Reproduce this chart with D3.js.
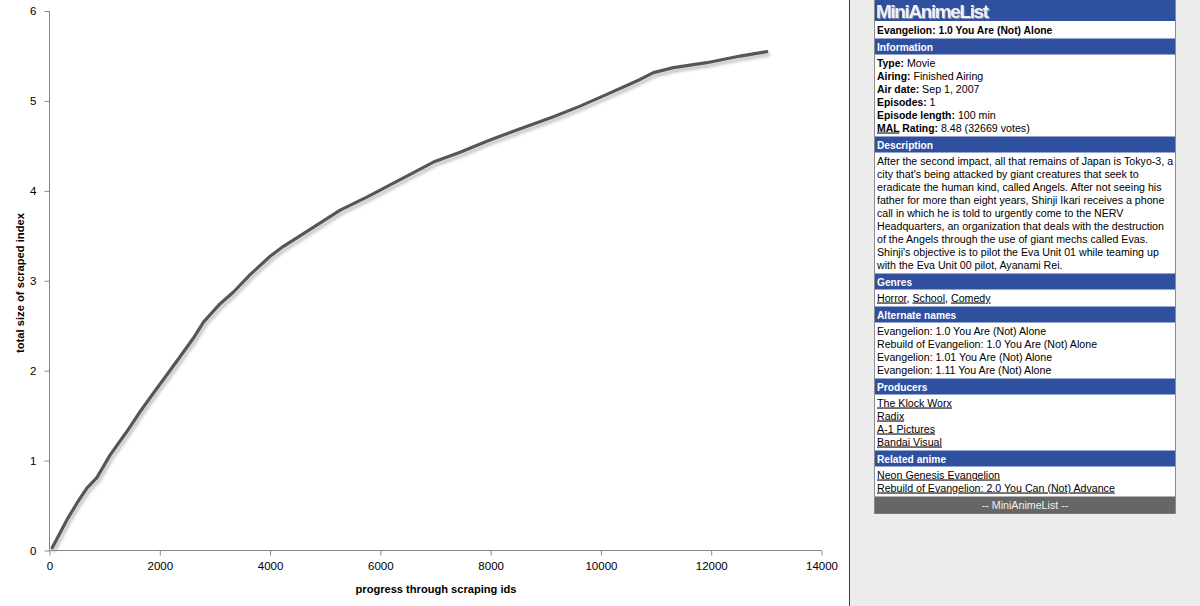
<!DOCTYPE html>
<html><head><meta charset="utf-8">
<script src="https://cdn.jsdelivr.net/npm/d3@7"></script>
<style>
html,body{margin:0;padding:0;background:#fff;}
svg{display:block;}
</style></head>
<body>
<svg id="c" width="1200" height="606"></svg>
<script>
// ---- chart data ----
const progressIds = [49,315,497,678,859,1101,1403,1645,1886,2129,2370,2611,2792,3095,3336,3639,4002,4243,4606,5271,5755,6359,6963,7447,7931,8413,9139,9623,10107,10711,10952,11315,11920,12524,13008];
const indexSize   = [0.031,0.34,0.526,0.693,0.810,1.063,1.323,1.546,1.751,1.954,2.158,2.363,2.540,2.745,2.875,3.068,3.272,3.383,3.525,3.785,3.930,4.125,4.320,4.430,4.552,4.664,4.824,4.942,5.073,5.239,5.315,5.370,5.425,5.499,5.548];
const xTicks = [0,2000,4000,6000,8000,10000,12000,14000];
const yTicks = [0,1,2,3,4,5,6];
const xTitle = "progress through scraping ids";
const yTitle = "total size of scraped index";

// ---- side panel data ----
const panelTitle = "MiniAnimeList";
const animeName = "Evangelion: 1.0 You Are (Not) Alone";
const infoRows = [["Type","Movie"],["Airing","Finished Airing"],["Air date","Sep 1, 2007"],["Episodes","1"],["Episode length","100 min"],["MAL","Rating","8.48 (32669 votes)"]];
const descriptionLines = [
 "After the second impact, all that remains of Japan is Tokyo-3, a",
 "city that's being attacked by giant creatures that seek to",
 "eradicate the human kind, called Angels. After not seeing his",
 "father for more than eight years, Shinji Ikari receives a phone",
 "call in which he is told to urgently come to the NERV",
 "Headquarters, an organization that deals with the destruction",
 "of the Angels through the use of giant mechs called Evas.",
 "Shinji's objective is to pilot the Eva Unit 01 while teaming up",
 "with the Eva Unit 00 pilot, Ayanami Rei."];
const genres = ["Horror","School","Comedy"];
const alternateNames = ["Evangelion: 1.0 You Are (Not) Alone","Rebuild of Evangelion: 1.0 You Are (Not) Alone","Evangelion: 1.01 You Are (Not) Alone","Evangelion: 1.11 You Are (Not) Alone"];
const producers = ["The Klock Worx","Radix","A-1 Pictures","Bandai Visual"];
const relatedAnime = ["Neon Genesis Evangelion","Rebuild of Evangelion: 2.0 You Can (Not) Advance"];
const footerText = "-- MiniAnimeList --";

const svg = d3.select("#c");
const FONT = "'Liberation Sans', Arial, sans-serif";
const NORMAL = "10.65px", BOLD = "10.4px";

// backgrounds
svg.append("rect").attr("x",0).attr("y",0).attr("width",849).attr("height",606).attr("fill","#fff");
svg.append("rect").attr("x",850).attr("y",0).attr("width",350).attr("height",606).attr("fill","#ececec");
svg.append("line").attr("x1",849.5).attr("x2",849.5).attr("y1",0).attr("y2",606).attr("stroke","#3a3a3a").attr("stroke-width",1);

// ---- chart ----
const x = d3.scaleLinear().domain([0,14000]).range([49.5,821.5]);
const y = d3.scaleLinear().domain([0,6]).range([550.5,11]);

const defs = svg.append("defs");
const f = defs.append("filter").attr("id","sh").attr("x","-5%").attr("y","-5%").attr("width","110%").attr("height","110%");
f.append("feDropShadow").attr("dx",2).attr("dy",3).attr("stdDeviation",1.6).attr("flood-color","#8a8a8a").attr("flood-opacity",0.55);

const xa = svg.append("g").attr("transform","translate(0,550.5)")
  .call(d3.axisBottom(x).tickValues(xTicks).tickSize(5).tickPadding(6).tickFormat(d3.format("d")));
const ya = svg.append("g").attr("transform","translate(49.5,0)")
  .call(d3.axisLeft(y).tickValues(yTicks).tickSize(5).tickPadding(8).tickFormat(d3.format("d")));
[xa,ya].forEach(a=>{
  a.select(".domain").attr("stroke","#868686");
  a.selectAll(".tick line").attr("stroke","#868686");
  a.selectAll("text").attr("fill","#000").style("font-family",FONT).style("font-size","11.5px");
});
xa.select(".domain").attr("d","M49.5,0H821.5");
ya.select(".domain").attr("d","M0,550.5V11");

const pts = progressIds.map((d,i)=>[d,indexSize[i]]);
svg.append("path").datum(pts)
  .attr("d",d3.line().x(d=>x(d[0])).y(d=>y(d[1])))
  .attr("fill","none").attr("stroke","#575757").attr("stroke-width",3.2)
  .attr("stroke-linejoin","round").attr("stroke-linecap","round")
  .attr("filter","url(#sh)");

svg.append("text").attr("x",436).attr("y",593).attr("text-anchor","middle")
  .style("font-family",FONT).style("font-weight","bold").style("font-size","11.1px").text(xTitle);
svg.append("text").attr("transform","translate(24,283) rotate(-90)").attr("text-anchor","middle")
  .style("font-family",FONT).style("font-weight","bold").style("font-size","11.2px").text(yTitle);

// ---- side panel ----
const PX = 874.5, PW = 301, BLUE = "#2f4f9f";
const p = svg.append("g");
const tx = 877;
p.append("rect").attr("x",PX).attr("y",-1).attr("width",PW).attr("height",514.5).attr("fill","#fff").attr("stroke","#8c8c8c");
p.append("rect").attr("x",PX+0.5).attr("y",0).attr("width",PW-1).attr("height",21).attr("fill",BLUE);
const tf = defs.append("filter").attr("id","tsh");
tf.append("feDropShadow").attr("dx",1).attr("dy",1).attr("stdDeviation",0.6).attr("flood-color","#9aa0b8").attr("flood-opacity",0.9);
p.append("text").attr("x",876).attr("y",18).attr("fill","#eef0f6").attr("filter","url(#tsh)")
  .style("font-family",FONT).style("font-weight","bold").style("font-size","19px").style("letter-spacing","-1.4px").text(panelTitle);
p.append("text").attr("x",tx).attr("y",34).style("font-family",FONT).style("font-weight","bold").style("font-size","10.35px").text(animeName);

let cur = 38.5;
function header(label){
  p.append("rect").attr("x",PX+0.5).attr("y",cur).attr("width",PW-1).attr("height",16).attr("fill",BLUE);
  p.append("text").attr("x",tx).attr("y",cur+12).attr("fill","#fff").style("font-family",FONT).style("font-weight","bold").style("font-size","10.2px").text(label);
  cur += 18;
}
function rowText(i){ return p.append("text").attr("x",tx).attr("y",cur+i*13+10).style("font-family",FONT).style("font-size",NORMAL); }
function endRows(n){ cur += n*13 + 2; }

header("Information");
infoRows.forEach((r,i)=>{
  const t = rowText(i);
  if(r.length===3){
    t.append("tspan").style("font-weight","bold").style("font-size",BOLD).style("text-decoration","underline").text(r[0]);
    t.append("tspan").style("font-weight","bold").style("font-size",BOLD).text(" "+r[1]+":");
    t.append("tspan").text(" "+r[2]);
  } else {
    t.append("tspan").style("font-weight","bold").style("font-size",BOLD).text(r[0]+":");
    t.append("tspan").text(" "+r[1]);
  }
});
endRows(infoRows.length);

header("Description");
descriptionLines.forEach((l,i)=>rowText(i).text(l));
endRows(descriptionLines.length);

header("Genres");
{ const t = rowText(0);
  genres.forEach((g,i)=>{
    t.append("tspan").style("text-decoration","underline").text(g);
    if(i<genres.length-1) t.append("tspan").text(", ");
  });
}
endRows(1);

header("Alternate names");
alternateNames.forEach((l,i)=>rowText(i).text(l));
endRows(alternateNames.length);

header("Producers");
producers.forEach((l,i)=>rowText(i).style("text-decoration","underline").text(l));
endRows(producers.length);

header("Related anime");
relatedAnime.forEach((l,i)=>rowText(i).style("text-decoration","underline").text(l));
endRows(relatedAnime.length);

p.append("rect").attr("x",PX+0.5).attr("y",cur).attr("width",PW-1).attr("height",17).attr("fill","#666");
p.append("text").attr("x",PX+PW/2).attr("y",cur+12).attr("text-anchor","middle").attr("fill","#f0f0f0")
  .style("font-family",FONT).style("font-size","10.7px").text(footerText);
</script>
</body></html>
